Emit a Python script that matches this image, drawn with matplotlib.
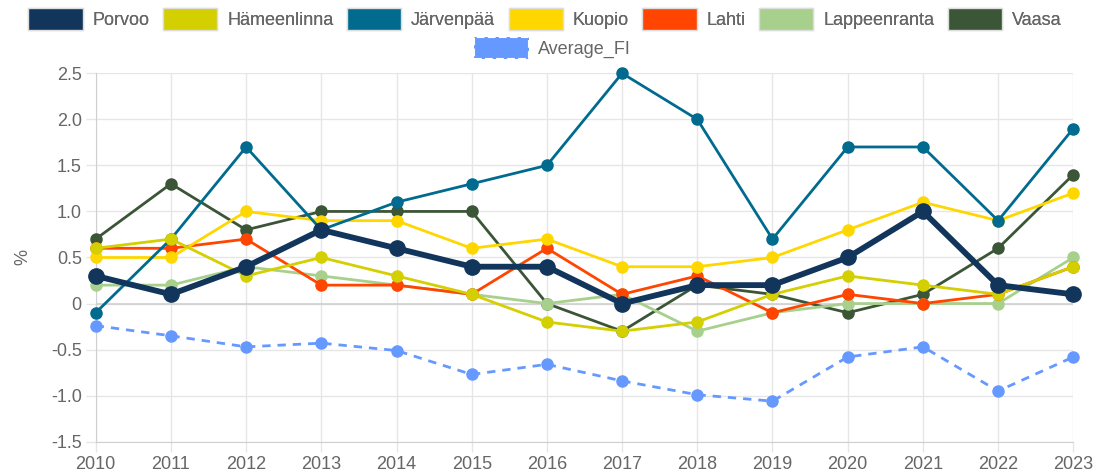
import matplotlib

matplotlib.use("Agg")
import matplotlib.pyplot as plt
from matplotlib.patches import Patch

plt.rcParams["font.family"] = ["Liberation Sans", "DejaVu Sans"]

years = list(range(2010, 2024))

porvoo = [0.3, 0.1, 0.4, 0.8, 0.6, 0.4, 0.4, 0.0, 0.2, 0.2, 0.5, 1.0, 0.2, 0.1]
hameenlinna = [0.6, 0.7, 0.3, 0.5, 0.3, 0.1, -0.2, -0.3, -0.2, 0.1, 0.3, 0.2, 0.1, 0.4]
jarvenpaa = [-0.1, 0.7, 1.7, 0.8, 1.1, 1.3, 1.5, 2.5, 2.0, 0.7, 1.7, 1.7, 0.9, 1.9]
kuopio = [0.5, 0.5, 1.0, 0.9, 0.9, 0.6, 0.7, 0.4, 0.4, 0.5, 0.8, 1.1, 0.9, 1.2]
lahti = [0.6, 0.6, 0.7, 0.2, 0.2, 0.1, 0.6, 0.1, 0.3, -0.1, 0.1, 0.0, 0.1, 0.4]
lappeenranta = [0.2, 0.2, 0.4, 0.3, 0.2, 0.1, 0.0, 0.1, -0.3, -0.1, 0.0, 0.0, 0.0, 0.5]
vaasa = [0.7, 1.3, 0.8, 1.0, 1.0, 1.0, 0.0, -0.3, 0.2, 0.1, -0.1, 0.1, 0.6, 1.4]
average_fi = [-0.24, -0.35, -0.47, -0.43, -0.51, -0.77, -0.66, -0.84, -0.99, -1.06,
              -0.58, -0.47, -0.95, -0.58]

cities = ["Porvoo", "Hämeenlinna", "Järvenpää", "Kuopio", "Lahti", "Lappeenranta", "Vaasa"]
series = [porvoo, hameenlinna, jarvenpaa, kuopio, lahti, lappeenranta, vaasa]
colors = ["#12355b", "#d4cf00", "#006b8f", "#ffd700", "#ff4500", "#a8d08d", "#3b5537"]
avg_color = "#6699ff"

fig = plt.figure(figsize=(11.09, 4.75), dpi=100)
ax = fig.add_axes([0.0863, 0.0701, 0.8815, 0.7756])

# Chart.js draws the first dataset on top
n = len(series)
for i, (name, vals, col) in enumerate(zip(cities, series, colors)):
    if name == "Porvoo":
        ax.plot(years, vals, "-o", color=col, lw=4.2, ms=11, zorder=20, clip_on=False)
    else:
        ax.plot(years, vals, "-o", color=col, lw=2.0, ms=8, zorder=10 + n - i, clip_on=False)
ax.plot(years, average_fi, "--o", color=avg_color, lw=2.0, ms=8, dashes=(3, 2.5),
        zorder=5, clip_on=False)

ax.set_xlim(2010, 2023)
ax.set_ylim(-1.5, 2.5)
ax.set_xticks(years)
ax.set_yticks([-1.5, -1.0, -0.5, 0, 0.5, 1.0, 1.5, 2.0, 2.5])
ax.set_yticklabels(["-1.5", "-1.0", "-0.5", "0", "0.5", "1.0", "1.5", "2.0", "2.5"])
ax.grid(True, color="#e6e6e6", lw=1.0, zorder=0)
ax.set_axisbelow(True)
ax.axhline(0, color="#d0d0d0", lw=1.2, zorder=1)
ax.tick_params(axis="both", colors="#e6e6e6", labelcolor="#666666", labelsize=13,
               length=7, width=1.0, pad=3)
for side in ("top", "right"):
    ax.spines[side].set_visible(False)
for side in ("left", "bottom"):
    ax.spines[side].set_color("#d0d0d0")
ax.set_ylabel("%", color="#666666", fontsize=13, labelpad=14)

handles = [Patch(facecolor=c, edgecolor="#dddddd", lw=1.0) for c in colors]
leg1 = fig.legend(handles, cities, loc="center", bbox_to_anchor=(0.4914, 1 - 19 / 475),
                  ncol=7, frameon=False, fontsize=13, handlelength=3.0, handleheight=1.45,
                  handletextpad=0.55, columnspacing=0.75, labelcolor="#666666")
avg_handle = Patch(facecolor=avg_color, edgecolor="white", lw=1.5, linestyle="--")
fig.legend([avg_handle], ["Average_FI"], loc="center", bbox_to_anchor=(0.4985, 1 - 48 / 475),
           frameon=False, fontsize=13, handlelength=3.0, handleheight=1.45,
           handletextpad=0.55, labelcolor="#666666")
fig.add_artist(leg1)

fig.savefig("out.png", dpi=100)
